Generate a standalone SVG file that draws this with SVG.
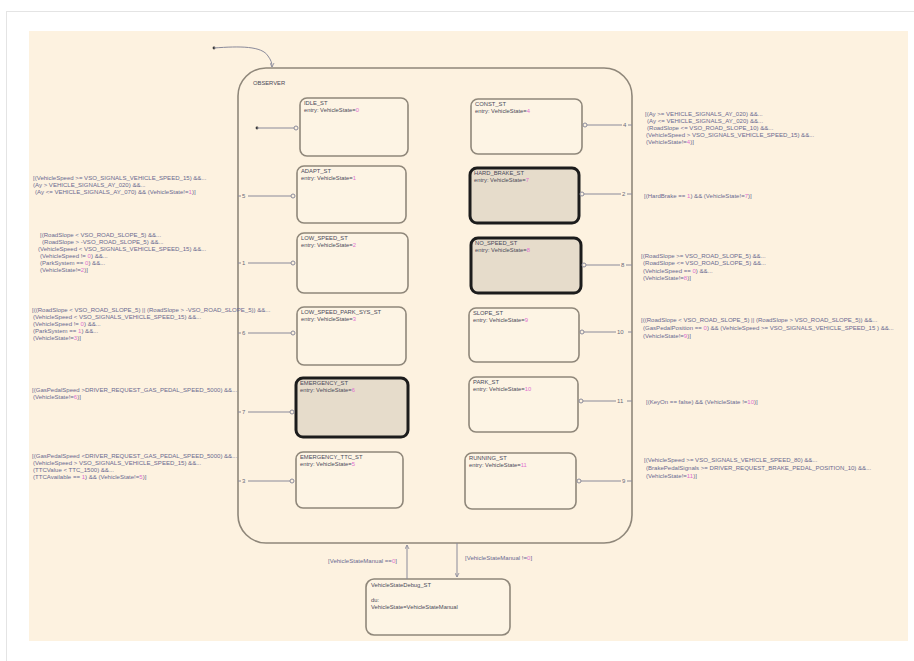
<svg xmlns="http://www.w3.org/2000/svg" width="914" height="661" viewBox="0 0 914 661">
  <defs>
    <style>
      .page { fill: #ffffff; }
      .frame { fill: none; stroke: #e4e4e4; stroke-width: 1; }
      .canvas { fill: #fdf2e0; }
      .super { fill: none; stroke: #8f877a; stroke-width: 1.6; }
      .state { fill: #fdf4e4; stroke: #8f877a; stroke-width: 1.6; }
      .active { fill: #e6dccb; stroke: #1c1c1c; stroke-width: 3; }
      .name { font-family: "Liberation Sans", Arial, sans-serif; font-size: 5.8px; fill: #4a4a5a; }
      .guard { font-family: "Liberation Sans", Arial, sans-serif; font-size: 6.05px; fill: #6a6a90; }
      .num { fill: #e070d0; }
      .ord { font-family: "Liberation Sans", Arial, sans-serif; font-size: 6px; fill: #6a6a7a; }
      .wire { fill: none; stroke: #8a8a9a; stroke-width: 1; }
      .tip { fill: #fdf2e0; stroke: #8a8a9a; stroke-width: 1; }
      .dot { fill: #3a3a3a; }
    </style>
    <marker id="arr" viewBox="0 0 6 6" refX="5" refY="3" markerWidth="5" markerHeight="5" orient="auto">
      <path d="M0,0.5 L5,3 L0,5.5" fill="none" stroke="#8a8a9a" stroke-width="1"/>
    </marker>
  </defs>

  <!-- page and canvas -->
  <rect class="page" x="0" y="0" width="914" height="661"/>
  <rect class="frame" x="6.5" y="11.5" width="912" height="660"/>
  <rect class="canvas" x="29" y="31" width="879" height="610"/>

  <!-- superstate -->
  <g id="observer">
    <rect class="super" x="238" y="68" width="394" height="475" rx="28" ry="28"/>
    <text class="name" x="253" y="85">OBSERVER</text>
  </g>

  <!-- left column states -->
  <g id="idle_st">
    <rect class="state" x="300" y="98" width="108" height="58" rx="7"/>
    <text class="name" x="304" y="105">IDLE_ST</text>
    <text class="name" x="304" y="112">entry: VehicleState=<tspan class="num">0</tspan></text>
  </g>
  <g id="adapt_st">
    <rect class="state" x="297" y="166" width="109" height="57" rx="7"/>
    <text class="name" x="301" y="173">ADAPT_ST</text>
    <text class="name" x="301" y="180">entry: VehicleState=<tspan class="num">1</tspan></text>
  </g>
  <g id="low_speed_st">
    <rect class="state" x="297" y="233" width="111" height="60" rx="7"/>
    <text class="name" x="301" y="240">LOW_SPEED_ST</text>
    <text class="name" x="301" y="247">entry: VehicleState=<tspan class="num">2</tspan></text>
  </g>
  <g id="low_speed_park_sys_st">
    <rect class="state" x="297" y="307" width="109" height="58" rx="7"/>
    <text class="name" x="301" y="314">LOW_SPEED_PARK_SYS_ST</text>
    <text class="name" x="301" y="321">entry: VehicleState=<tspan class="num">3</tspan></text>
  </g>
  <g id="emergency_st">
    <rect class="active" x="296" y="378" width="112" height="59" rx="7"/>
    <text class="name" x="300" y="385">EMERGENCY_ST</text>
    <text class="name" x="300" y="392">entry: VehicleState=<tspan class="num">6</tspan></text>
  </g>
  <g id="emergency_ttc_st">
    <rect class="state" x="296" y="452" width="107" height="56" rx="7"/>
    <text class="name" x="300" y="459">EMERGENCY_TTC_ST</text>
    <text class="name" x="300" y="466">entry: VehicleState=<tspan class="num">5</tspan></text>
  </g>

  <!-- right column states -->
  <g id="const_st">
    <rect class="state" x="471" y="99" width="111" height="55" rx="7"/>
    <text class="name" x="475" y="106">CONST_ST</text>
    <text class="name" x="475" y="113">entry: VehicleState=<tspan class="num">4</tspan></text>
  </g>
  <g id="hard_brake_st">
    <rect class="active" x="470" y="168" width="109" height="55" rx="7"/>
    <text class="name" x="474" y="175">HARD_BRAKE_ST</text>
    <text class="name" x="474" y="182">entry: VehicleState=<tspan class="num">7</tspan></text>
  </g>
  <g id="no_speed_st">
    <rect class="active" x="471" y="238" width="110" height="55" rx="7"/>
    <text class="name" x="475" y="245">NO_SPEED_ST</text>
    <text class="name" x="475" y="252">entry: VehicleState=<tspan class="num">8</tspan></text>
  </g>
  <g id="slope_st">
    <rect class="state" x="469" y="308" width="110" height="54" rx="7"/>
    <text class="name" x="473" y="315">SLOPE_ST</text>
    <text class="name" x="473" y="322">entry: VehicleState=<tspan class="num">9</tspan></text>
  </g>
  <g id="park_st">
    <rect class="state" x="469" y="377" width="109" height="55" rx="7"/>
    <text class="name" x="473" y="384">PARK_ST</text>
    <text class="name" x="473" y="391">entry: VehicleState=<tspan class="num">10</tspan></text>
  </g>
  <g id="running_st">
    <rect class="state" x="465" y="453" width="111" height="56" rx="7"/>
    <text class="name" x="469" y="460">RUNNING_ST</text>
    <text class="name" x="469" y="467">entry: VehicleState=<tspan class="num">11</tspan></text>
  </g>

  <!-- debug state below the superstate -->
  <g id="vehiclestatedebug_st">
    <rect class="state" x="366" y="579" width="144" height="56" rx="8"/>
    <text class="name" x="371" y="587">VehicleStateDebug_ST</text>
    <text class="name" x="371" y="602">du:</text>
    <text class="name" x="371" y="609">VehicleState=VehicleStateManual</text>
  </g>

  <!-- transitions -->
  <g id="connectors">
    <!-- default transitions -->
    <circle class="dot" cx="214" cy="48" r="1.4"/>
    <path class="wire" d="M214,48 C240,46 262,46 268,56 C271,60 272,63 272,67" marker-end="url(#arr)"/>
    <circle class="dot" cx="257" cy="128" r="1.4"/>
    <line class="wire" x1="257" y1="128" x2="294" y2="128"/>
    <circle class="tip" cx="296" cy="128" r="2"/>

    <!-- left side entries -->
    <line class="wire" x1="238" y1="196" x2="241" y2="196"/>
    <text class="ord" x="242" y="198">5</text>
    <line class="wire" x1="248" y1="196" x2="291" y2="196"/>
    <circle class="tip" cx="293" cy="196" r="2"/>

    <line class="wire" x1="238" y1="263" x2="241" y2="263"/>
    <text class="ord" x="242" y="265">1</text>
    <line class="wire" x1="248" y1="263" x2="291" y2="263"/>
    <circle class="tip" cx="293" cy="263" r="2"/>

    <line class="wire" x1="238" y1="333" x2="241" y2="333"/>
    <text class="ord" x="242" y="335">6</text>
    <line class="wire" x1="248" y1="333" x2="291" y2="333"/>
    <circle class="tip" cx="293" cy="333" r="2"/>

    <line class="wire" x1="238" y1="412" x2="241" y2="412"/>
    <text class="ord" x="242" y="414">7</text>
    <line class="wire" x1="248" y1="412" x2="290" y2="412"/>
    <circle class="tip" cx="292" cy="412" r="2"/>

    <line class="wire" x1="238" y1="481" x2="241" y2="481"/>
    <text class="ord" x="242" y="483">3</text>
    <line class="wire" x1="248" y1="481" x2="290" y2="481"/>
    <circle class="tip" cx="292" cy="481" r="2"/>

    <!-- right side entries -->
    <circle class="tip" cx="585" cy="125" r="2"/>
    <line class="wire" x1="587" y1="125" x2="622" y2="125"/>
    <text class="ord" x="623" y="127">4</text>
    <line class="wire" x1="628" y1="125" x2="632" y2="125"/>

    <circle class="tip" cx="582" cy="194" r="2"/>
    <line class="wire" x1="584" y1="194" x2="621" y2="194"/>
    <text class="ord" x="622" y="196">2</text>
    <line class="wire" x1="627" y1="194" x2="632" y2="194"/>

    <circle class="tip" cx="584" cy="265" r="2"/>
    <line class="wire" x1="586" y1="265" x2="620" y2="265"/>
    <text class="ord" x="621" y="267">8</text>
    <line class="wire" x1="626" y1="265" x2="632" y2="265"/>

    <circle class="tip" cx="582" cy="332" r="2"/>
    <line class="wire" x1="584" y1="332" x2="616" y2="332"/>
    <text class="ord" x="617" y="334">10</text>
    <line class="wire" x1="628" y1="332" x2="632" y2="332"/>

    <circle class="tip" cx="581" cy="401" r="2"/>
    <line class="wire" x1="583" y1="401" x2="616" y2="401"/>
    <text class="ord" x="617" y="403">11</text>
    <line class="wire" x1="627" y1="401" x2="632" y2="401"/>

    <circle class="tip" cx="579" cy="481" r="2"/>
    <line class="wire" x1="581" y1="481" x2="621" y2="481"/>
    <text class="ord" x="622" y="483">9</text>
    <line class="wire" x1="627" y1="481" x2="632" y2="481"/>

    <!-- debug transitions -->
    <line class="wire" x1="407" y1="579" x2="407" y2="545" marker-end="url(#arr)"/>
    <line class="wire" x1="457" y1="543" x2="457" y2="577" marker-end="url(#arr)"/>
  </g>

  <!-- transition guards, left -->
  <g id="guards-left">
    <text class="guard" x="33" y="180">[(VehicleSpeed &gt;= VSO_SIGNALS_VEHICLE_SPEED_15) &amp;&amp;...</text>
    <text class="guard" x="33" y="187">(Ay &gt; VEHICLE_SIGNALS_AY_020) &amp;&amp;...</text>
    <text class="guard" x="35" y="194"> (Ay &lt;= VEHICLE_SIGNALS_AY_070) &amp;&amp; (VehicleState!=<tspan class="num">1</tspan>)]</text>

    <text class="guard" x="40" y="237">[(RoadSlope &lt; VSO_ROAD_SLOPE_5) &amp;&amp;...</text>
    <text class="guard" x="42" y="244">(RoadSlope &gt; -VSO_ROAD_SLOPE_5) &amp;&amp;...</text>
    <text class="guard" x="38" y="251">(VehicleSpeed &lt; VSO_SIGNALS_VEHICLE_SPEED_15) &amp;&amp;...</text>
    <text class="guard" x="40" y="258">(VehicleSpeed != <tspan class="num">0</tspan>) &amp;&amp;...</text>
    <text class="guard" x="40" y="265">(ParkSystem == <tspan class="num">0</tspan>) &amp;&amp;...</text>
    <text class="guard" x="40" y="272">(VehicleState!=<tspan class="num">2</tspan>)]</text>

    <text class="guard" x="32" y="312">[((RoadSlope &lt; VSO_ROAD_SLOPE_5) || (RoadSlope &gt; -VSO_ROAD_SLOPE_5)) &amp;&amp;...</text>
    <text class="guard" x="33" y="319">(VehicleSpeed &lt; VSO_SIGNALS_VEHICLE_SPEED_15) &amp;&amp;...</text>
    <text class="guard" x="33" y="326">(VehicleSpeed != <tspan class="num">0</tspan>) &amp;&amp;...</text>
    <text class="guard" x="33" y="333">(ParkSystem == <tspan class="num">1</tspan>) &amp;&amp;...</text>
    <text class="guard" x="33" y="340">(VehicleState!=<tspan class="num">3</tspan>)]</text>

    <text class="guard" x="32" y="392">[(GasPedalSpeed &gt;DRIVER_REQUEST_GAS_PEDAL_SPEED_5000) &amp;&amp;...</text>
    <text class="guard" x="33" y="399">(VehicleState!=<tspan class="num">6</tspan>)]</text>

    <text class="guard" x="32" y="458">[(GasPedalSpeed &lt;DRIVER_REQUEST_GAS_PEDAL_SPEED_5000) &amp;&amp;...</text>
    <text class="guard" x="33" y="465">(VehicleSpeed &gt; VSO_SIGNALS_VEHICLE_SPEED_15) &amp;&amp;...</text>
    <text class="guard" x="33" y="472">(TTCValue &lt; TTC_1500) &amp;&amp;...</text>
    <text class="guard" x="33" y="479">(TTCAvailable == <tspan class="num">1</tspan>) &amp;&amp; (VehicleState!=<tspan class="num">5</tspan>)]</text>
  </g>

  <!-- transition guards, right -->
  <g id="guards-right">
    <text class="guard" x="645" y="116">[(Ay &gt;= VEHICLE_SIGNALS_AY_020) &amp;&amp;...</text>
    <text class="guard" x="647" y="123">(Ay &lt;= VEHICLE_SIGNALS_AY_020) &amp;&amp;...</text>
    <text class="guard" x="647" y="130">(RoadSlope &lt;= VSO_ROAD_SLOPE_10) &amp;&amp;...</text>
    <text class="guard" x="646" y="137">(VehicleSpeed &gt; VSO_SIGNALS_VEHICLE_SPEED_15) &amp;&amp;...</text>
    <text class="guard" x="646" y="144">(VehicleState!=<tspan class="num">4</tspan>)]</text>

    <text class="guard" x="644" y="198">[(HardBrake == <tspan class="num">1</tspan>) &amp;&amp; (VehicleState!=<tspan class="num">7</tspan>)]</text>

    <text class="guard" x="641" y="258">[(RoadSlope &gt;= VSO_ROAD_SLOPE_5) &amp;&amp;...</text>
    <text class="guard" x="643" y="265">(RoadSlope &lt;= VSO_ROAD_SLOPE_5) &amp;&amp;...</text>
    <text class="guard" x="643" y="273">(VehicleSpeed == <tspan class="num">0</tspan>) &amp;&amp;...</text>
    <text class="guard" x="643" y="280">(VehicleState!=<tspan class="num">8</tspan>)]</text>

    <text class="guard" x="641" y="322">[((RoadSlope &lt; VSO_ROAD_SLOPE_5) || (RoadSlope &gt; VSO_ROAD_SLOPE_5)) &amp;&amp;...</text>
    <text class="guard" x="643" y="330">(GasPedalPosition == <tspan class="num">0</tspan>) &amp;&amp; (VehicleSpeed &gt;= VSO_SIGNALS_VEHICLE_SPEED_15 ) &amp;&amp;...</text>
    <text class="guard" x="643" y="338">(VehicleState!=<tspan class="num">9</tspan>)]</text>

    <text class="guard" x="646" y="404">[(KeyOn == false) &amp;&amp; (VehicleState !=<tspan class="num">10</tspan>)]</text>

    <text class="guard" x="644" y="462">[(VehicleSpeed &gt;= VSO_SIGNALS_VEHICLE_SPEED_80) &amp;&amp;...</text>
    <text class="guard" x="646" y="470">(BrakePedalSignals &gt;= DRIVER_REQUEST_BRAKE_PEDAL_POSITION_10) &amp;&amp;...</text>
    <text class="guard" x="646" y="478">(VehicleState!=<tspan class="num">11</tspan>)]</text>
  </g>

  <!-- debug guards -->
  <g id="guards-debug">
    <text class="guard" x="328" y="563">[VehicleStateManual ==<tspan class="num">0</tspan>]</text>
    <text class="guard" x="465" y="560">[VehicleStateManual !=<tspan class="num">0</tspan>]</text>
  </g>
</svg>
